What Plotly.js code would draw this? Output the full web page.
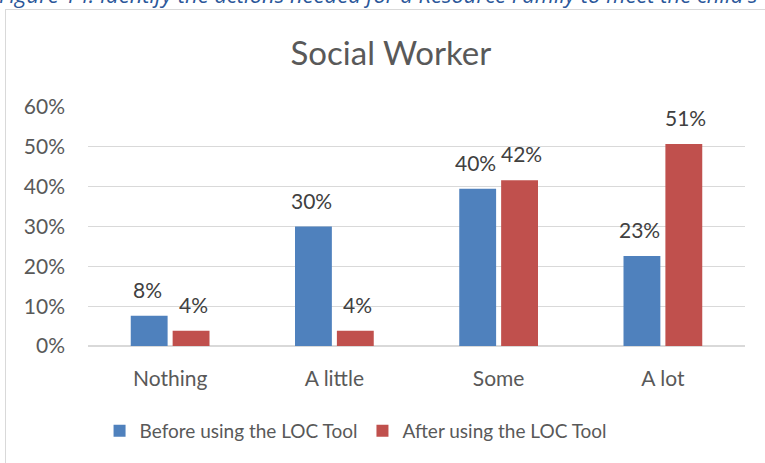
<!DOCTYPE html>
<html>
<head>
<meta charset="utf-8">
<script src="https://cdn.plot.ly/plotly-3.0.1.min.js"></script>
<style>
  html, body { margin: 0; padding: 0; background: #fff; overflow: hidden; }
  #wrap { position: relative; width: 765px; height: 463px; overflow: hidden; }
  #caption { position: absolute; left: -1px; top: -21px; white-space: nowrap; line-height: 30px;
    font-family: "Open Sans", sans-serif; font-style: italic; font-size: 22px; color: #2b579a; }
  #frame { position: absolute; left: 5px; top: 9px; width: 800px; height: 500px;
    border: 1px solid #d9d9d9; box-sizing: border-box; }
  #chart { position: absolute; left: 0; top: 0; width: 765px; height: 463px; }
</style>
</head>
<body>
<div id="wrap">
  <div id="caption">Figure 14. Identify the actions needed for a Resource Family to meet the child's</div>
  <div id="frame"></div>
  <div id="chart"></div>
</div>
<script>
const categories = ["Nothing", "A little", "Some", "A lot"];
const seriesNames = ["Before using the LOC Tool", "After using the LOC Tool"];
const beforeValues = [0.076, 0.300, 0.395, 0.226];
const afterValues = [0.038, 0.038, 0.416, 0.507];
const yTickValues = [0, 0.1, 0.2, 0.3, 0.4, 0.5, 0.6];
const yTickLabels = ["0%", "10%", "20%", "30%", "40%", "50%", "60%"];

const FONT = "Lato, 'Open Sans', sans-serif";
const makeTrace = (name, vals, color) => ({
  type: "bar", name: name, x: categories, y: vals,
  marker: { color: color },
  hoverinfo: "skip"
});

const data = [
  makeTrace(seriesNames[0], beforeValues, "#4f81bd"),
  makeTrace(seriesNames[1], afterValues, "#c0504d")
];

// data labels placed above each bar (offset sideways to the bar within its group)
const annotations = [];
[[beforeValues, -23], [afterValues, 23]].forEach(([vals, dx]) => {
  vals.forEach((v, i) => {
    annotations.push({
      x: categories[i], y: v, xref: "x", yref: "y",
      text: Math.round(v * 100) + "%", showarrow: false,
      xshift: dx, yanchor: "bottom", yshift: 12,
      font: { family: FONT, size: 21, color: "#404040" }
    });
  });
});

const layout = {
  width: 765, height: 463,
  paper_bgcolor: "rgba(0,0,0,0)", plot_bgcolor: "rgba(0,0,0,0)",
  margin: { l: 88, r: 20, t: 107, b: 117 },
  font: { family: FONT, color: "#595959" },
  title: { text: "Social Worker", font: { family: FONT, size: 33, color: "#595959" },
    x: 0.511, xanchor: "center", y: 1 - 53 / 463, yanchor: "middle", yref: "container" },
  barmode: "group", bargap: 0.49, bargroupgap: 0.12,
  xaxis: { tickfont: { family: FONT, size: 21, color: "#595959" }, showline: false,
    showgrid: false, ticks: "", ticklabelstandoff: 18 },
  yaxis: { range: [0, 0.6], tickvals: yTickValues, ticktext: yTickLabels,
    tickfont: { family: FONT, size: 21, color: "#595959" },
    showgrid: true, gridcolor: "#d9d9d9", gridwidth: 1.3, zeroline: true,
    zerolinecolor: "#d9d9d9", zerolinewidth: 1.3, ticks: "", ticklabelstandoff: 22 },
  annotations: annotations,
  showlegend: true,
  legend: { orientation: "h", x: 0.408, xanchor: "center", y: 1 - 431 / 463, yanchor: "middle",
    yref: "container", font: { family: FONT, size: 19, color: "#595959" },
    itemwidth: 30, traceorder: "normal" }
};

Plotly.newPlot("chart", data, layout, { staticPlot: true, displayModeBar: false });
</script>
</body>
</html>
